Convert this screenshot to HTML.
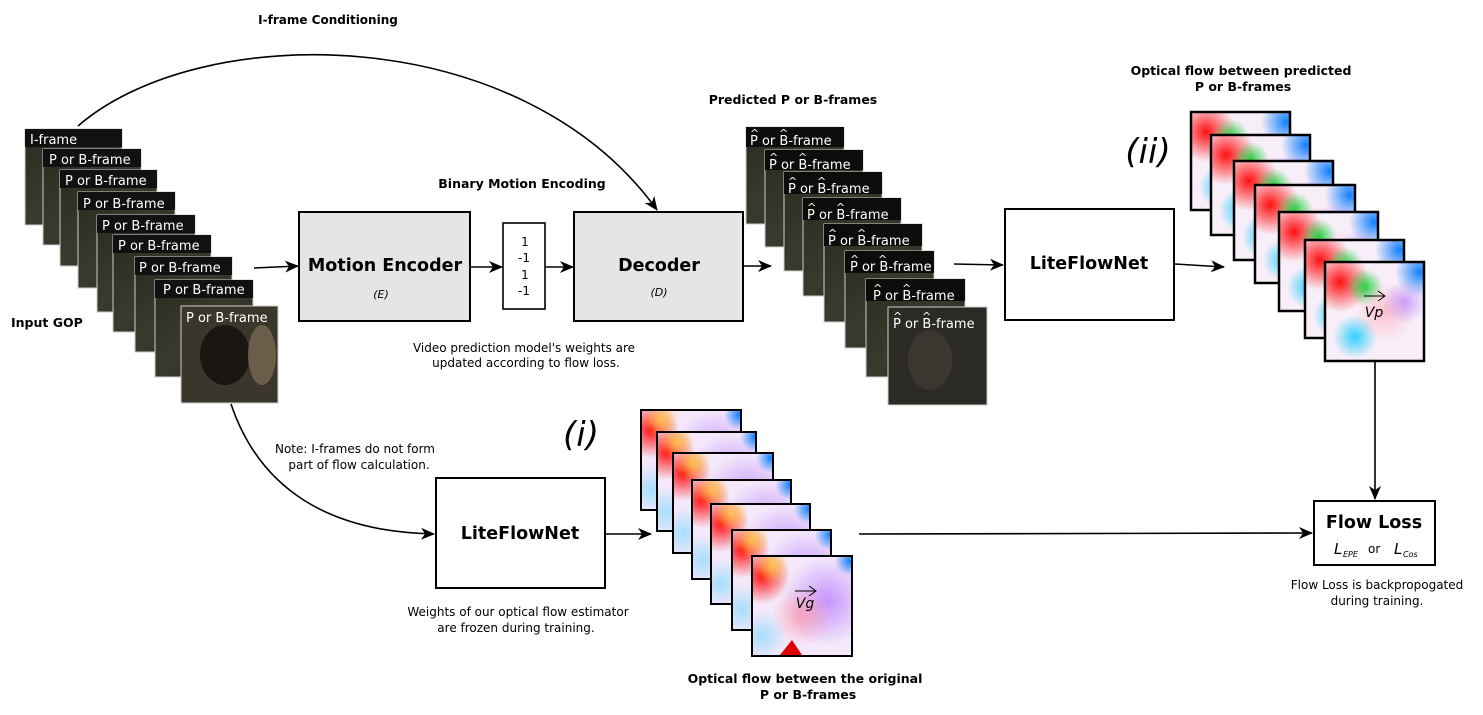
<!DOCTYPE html>
<html><head><meta charset="utf-8"><style>
html,body{margin:0;padding:0;background:#fff;}
svg{display:block;font-family:"DejaVu Sans","Liberation Sans",sans-serif;}
</style></head><body>
<svg width="1483" height="715" viewBox="0 0 1483 715" xmlns="http://www.w3.org/2000/svg">
<defs>
<marker id="ar" markerWidth="14" markerHeight="12" refX="13" refY="6" orient="auto" markerUnits="userSpaceOnUse">
<path d="M0,0 L14,6 L0,12 L4,6 Z" fill="#000"/></marker>
<linearGradient id="dk" x1="0" y1="0" x2="1" y2="1">
<stop offset="0" stop-color="#2a2a20"/><stop offset="0.5" stop-color="#3b3a2e"/><stop offset="1" stop-color="#1c1c16"/></linearGradient>
<radialGradient id="rR"><stop offset="0" stop-color="#ff1010"/><stop offset="1" stop-color="#ff1010" stop-opacity="0"/></radialGradient>
<radialGradient id="rY"><stop offset="0" stop-color="#ffd040"/><stop offset="1" stop-color="#ffd040" stop-opacity="0"/></radialGradient>
<radialGradient id="rG"><stop offset="0" stop-color="#10d030"/><stop offset="1" stop-color="#10d030" stop-opacity="0"/></radialGradient>
<radialGradient id="rB"><stop offset="0" stop-color="#1080ff"/><stop offset="1" stop-color="#1080ff" stop-opacity="0"/></radialGradient>
<radialGradient id="rC"><stop offset="0" stop-color="#30d0ff"/><stop offset="1" stop-color="#30d0ff" stop-opacity="0"/></radialGradient>
<radialGradient id="rP"><stop offset="0" stop-color="#b070ff"/><stop offset="1" stop-color="#b070ff" stop-opacity="0"/></radialGradient>
<radialGradient id="rK"><stop offset="0" stop-color="#ff90a0"/><stop offset="1" stop-color="#ff90a0" stop-opacity="0"/></radialGradient>
<symbol id="fA" viewBox="0 0 100 100">
<g stroke="none">
<rect width="100" height="100" fill="#f8eef8"/>
<circle cx="15" cy="20" r="30" fill="url(#rR)"/>
<circle cx="40" cy="25" r="18" fill="url(#rG)" opacity="0.9"/>
<circle cx="95" cy="10" r="25" fill="url(#rB)"/>
<circle cx="30" cy="75" r="22" fill="url(#rC)"/>
<circle cx="60" cy="50" r="30" fill="url(#rK)" opacity="0.5"/>
<circle cx="80" cy="40" r="22" fill="url(#rP)" opacity="0.6"/>
</g>
</symbol>
<symbol id="fB" viewBox="0 0 100 100">
<g stroke="none">
<rect width="100" height="100" fill="#f4e8fa"/>
<circle cx="10" cy="20" r="28" fill="url(#rR)"/>
<circle cx="20" cy="10" r="18" fill="url(#rY)" opacity="0.8"/>
<circle cx="75" cy="45" r="45" fill="url(#rP)" opacity="0.7"/>
<circle cx="50" cy="60" r="30" fill="url(#rK)" opacity="0.7"/>
<circle cx="10" cy="80" r="25" fill="url(#rC)" opacity="0.4"/>
<circle cx="98" cy="5" r="15" fill="url(#rB)"/>
</g>
</symbol>
</defs>

<text x="328" y="24" font-size="12" font-weight="bold" text-anchor="middle">I-frame Conditioning</text>
<path d="M78,126 C200,20 520,20 657,210" fill="none" stroke="#000" stroke-width="1.6" marker-end="url(#ar)"/>

<g font-size="13" fill="#fff">
<g><rect x="25" y="129" width="97" height="96" fill="url(#dk)" stroke="#ccc"/><rect x="25" y="129" width="97" height="18" fill="#111"/><text x="30" y="144">I-frame</text></g>
<g><rect x="43" y="149" width="98" height="96" fill="url(#dk)" stroke="#ccc"/><rect x="43" y="149" width="98" height="18" fill="#111"/><text x="49" y="164">P or B-frame</text></g>
<g><rect x="60" y="170" width="97" height="96" fill="url(#dk)" stroke="#ccc"/><rect x="60" y="170" width="97" height="18" fill="#111"/><text x="65" y="185">P or B-frame</text></g>
<g><rect x="78" y="192" width="97" height="96" fill="url(#dk)" stroke="#ccc"/><rect x="78" y="192" width="97" height="18" fill="#111"/><text x="83" y="208">P or B-frame</text></g>
<g><rect x="97" y="215" width="98" height="97" fill="url(#dk)" stroke="#ccc"/><rect x="97" y="215" width="98" height="18" fill="#111"/><text x="102" y="230">P or B-frame</text></g>
<g><rect x="113" y="235" width="98" height="97" fill="url(#dk)" stroke="#ccc"/><rect x="113" y="235" width="98" height="18" fill="#111"/><text x="118" y="250">P or B-frame</text></g>
<g><rect x="135" y="257" width="97" height="95" fill="url(#dk)" stroke="#ccc"/><rect x="135" y="257" width="97" height="18" fill="#111"/><text x="139" y="272">P or B-frame</text></g>
<g><rect x="155" y="280" width="98" height="97" fill="url(#dk)" stroke="#ccc"/><rect x="155" y="280" width="98" height="18" fill="#111"/><text x="163" y="294">P or B-frame</text></g>
<g><rect x="181" y="306" width="97" height="97" fill="#3a362c" stroke="#ccc"/><ellipse cx="225" cy="355" rx="25" ry="30" fill="#1a1612"/><ellipse cx="262" cy="355" rx="14" ry="30" fill="#6a5e4a"/><text x="186" y="322">P or B-frame</text></g>
</g>
<text x="11" y="327" font-size="12.5" font-weight="bold">Input GOP</text>

<line x1="254" y1="268" x2="298" y2="266" stroke="#000" stroke-width="1.6" marker-end="url(#ar)"/>
<rect x="299" y="212" width="171" height="109" fill="#e5e5e5" stroke="#000" stroke-width="2"/>
<text x="385" y="271" font-size="17.5" font-weight="bold" text-anchor="middle">Motion Encoder</text>
<text x="381" y="298" font-size="11" font-style="italic" text-anchor="middle">(E)</text>
<line x1="471" y1="267" x2="502" y2="267" stroke="#000" stroke-width="1.6" marker-end="url(#ar)"/>
<rect x="503" y="223" width="42" height="86" fill="#fff" stroke="#000" stroke-width="1.6"/>
<g font-size="12" text-anchor="middle"><text x="525" y="246">1</text><text x="524" y="262">-1</text><text x="525" y="279">1</text><text x="524" y="295">-1</text></g>
<text x="522" y="188" font-size="12.5" font-weight="bold" text-anchor="middle">Binary Motion Encoding</text>
<line x1="546" y1="267" x2="573" y2="267" stroke="#000" stroke-width="1.6" marker-end="url(#ar)"/>
<rect x="574" y="212" width="169" height="109" fill="#e5e5e5" stroke="#000" stroke-width="2"/>
<text x="659" y="271" font-size="17.5" font-weight="bold" text-anchor="middle">Decoder</text>
<text x="659" y="296" font-size="11" font-style="italic" text-anchor="middle">(D)</text>
<line x1="744" y1="266" x2="771" y2="266" stroke="#000" stroke-width="1.6" marker-end="url(#ar)"/>
<text x="524" y="352" font-size="12" text-anchor="middle">Video prediction model's weights are</text>
<text x="526" y="367" font-size="12" text-anchor="middle">updated according to flow loss.</text>

<text x="793" y="104" font-size="12.5" font-weight="bold" text-anchor="middle">Predicted P or B-frames</text>
<g font-size="13" fill="#fff">
<g><rect x="746" y="127" width="98" height="97" fill="url(#dk)" stroke="#ccc"/><rect x="746" y="127" width="98" height="20" fill="#0c0c0a"/><text x="750" y="145">P or B-frame</text><text x="750" y="137" font-size="11">^</text><text x="779" y="137" font-size="11">^</text></g>
<g><rect x="765" y="150" width="98" height="97" fill="url(#dk)" stroke="#ccc"/><rect x="765" y="150" width="98" height="20" fill="#0c0c0a"/><text x="769" y="169">P or B-frame</text><text x="769" y="161" font-size="11">^</text><text x="798" y="161" font-size="11">^</text></g>
<g><rect x="784" y="172" width="98" height="99" fill="url(#dk)" stroke="#ccc"/><rect x="784" y="172" width="98" height="22" fill="#0c0c0a"/><text x="788" y="193">P or B-frame</text><text x="788" y="185" font-size="11">^</text><text x="817" y="185" font-size="11">^</text></g>
<g><rect x="803" y="198" width="98" height="98" fill="url(#dk)" stroke="#ccc"/><rect x="803" y="198" width="98" height="22" fill="#0c0c0a"/><text x="807" y="219">P or B-frame</text><text x="807" y="211" font-size="11">^</text><text x="836" y="211" font-size="11">^</text></g>
<g><rect x="824" y="224" width="98" height="98" fill="url(#dk)" stroke="#ccc"/><rect x="824" y="224" width="98" height="22" fill="#0c0c0a"/><text x="828" y="245">P or B-frame</text><text x="828" y="237" font-size="11">^</text><text x="857" y="237" font-size="11">^</text></g>
<g><rect x="845" y="251" width="89" height="97" fill="url(#dk)" stroke="#ccc"/><rect x="845" y="251" width="89" height="22" fill="#0c0c0a"/><text x="850" y="271">P or B-frame</text><text x="850" y="263" font-size="11">^</text><text x="878" y="263" font-size="11">^</text></g>
<g><rect x="866" y="279" width="99" height="98" fill="url(#dk)" stroke="#ccc"/><rect x="866" y="279" width="99" height="22" fill="#0c0c0a"/><text x="873" y="300">P or B-frame</text><text x="873" y="292" font-size="11">^</text><text x="902" y="292" font-size="11">^</text></g>
<g><rect x="888" y="307" width="99" height="98" fill="#2c2a24" stroke="#ccc"/><ellipse cx="930" cy="360" rx="22" ry="30" fill="#3c3630"/><text x="893" y="328">P or B-frame</text><text x="893" y="320" font-size="11">^</text><text x="922" y="320" font-size="11">^</text></g>
</g>

<line x1="954" y1="264" x2="1003" y2="265" stroke="#000" stroke-width="1.6" marker-end="url(#ar)"/>
<rect x="1005" y="209" width="169" height="111" fill="#fff" stroke="#000" stroke-width="2"/>
<text x="1089" y="269" font-size="17.5" font-weight="bold" text-anchor="middle">LiteFlowNet</text>
<line x1="1175" y1="264" x2="1224" y2="267" stroke="#000" stroke-width="1.6" marker-end="url(#ar)"/>

<text x="1241" y="75" font-size="12.5" font-weight="bold" text-anchor="middle">Optical flow between predicted</text>
<text x="1243" y="91" font-size="12.5" font-weight="bold" text-anchor="middle">P or B-frames</text>
<text x="1148" y="163" font-size="34" font-style="italic" text-anchor="middle">(ii)</text>
<svg x="1191" y="112" width="99" height="98"><use href="#fA" width="100" height="100"/></svg><rect x="1191" y="112" width="99" height="98" fill="none" stroke="#000" stroke-width="2.5"/>
<svg x="1211" y="135" width="99" height="100"><use href="#fA" width="100" height="100"/></svg><rect x="1211" y="135" width="99" height="100" fill="none" stroke="#000" stroke-width="2.5"/>
<svg x="1234" y="161" width="99" height="99"><use href="#fA" width="100" height="100"/></svg><rect x="1234" y="161" width="99" height="99" fill="none" stroke="#000" stroke-width="2.5"/>
<svg x="1255" y="185" width="100" height="98"><use href="#fA" width="100" height="100"/></svg><rect x="1255" y="185" width="100" height="98" fill="none" stroke="#000" stroke-width="2.5"/>
<svg x="1279" y="212" width="99" height="99"><use href="#fA" width="100" height="100"/></svg><rect x="1279" y="212" width="99" height="99" fill="none" stroke="#000" stroke-width="2.5"/>
<svg x="1305" y="240" width="99" height="98"><use href="#fA" width="100" height="100"/></svg><rect x="1305" y="240" width="99" height="98" fill="none" stroke="#000" stroke-width="2.5"/>
<svg x="1325" y="262" width="99" height="99"><use href="#fA" width="100" height="100"/></svg><rect x="1325" y="262" width="99" height="99" fill="none" stroke="#000" stroke-width="2.5"/>
<line x1="1364" y1="296" x2="1384" y2="296" stroke="#000" stroke-width="1"/><path d="M1378,291 L1385,296 L1378,301" fill="none" stroke="#000"/>
<text x="1374" y="317" font-size="14" font-style="italic" text-anchor="middle">Vp</text>

<line x1="1375" y1="362" x2="1375" y2="499" stroke="#000" stroke-width="1.6" marker-end="url(#ar)"/>
<rect x="1314" y="501" width="121" height="64" fill="#fff" stroke="#000" stroke-width="2"/>
<text x="1374" y="528" font-size="17.5" font-weight="bold" text-anchor="middle">Flow Loss</text>
<text x="1334" y="554" font-size="15" font-style="italic">L</text><text x="1343" y="557" font-size="8" font-style="italic">EPE</text>
<text x="1368" y="553" font-size="12">or</text>
<text x="1394" y="554" font-size="15" font-style="italic">L</text><text x="1403" y="557" font-size="8" font-style="italic">Cos</text>
<text x="1377" y="589" font-size="12" text-anchor="middle">Flow Loss is backpropogated</text>
<text x="1377" y="605" font-size="12" text-anchor="middle">during training.</text>

<path d="M231,404 C260,490 330,532 434,534" fill="none" stroke="#000" stroke-width="1.6" marker-end="url(#ar)"/>
<text x="355" y="453" font-size="12" text-anchor="middle">Note: I-frames do not form</text>
<text x="359" y="469" font-size="12" text-anchor="middle">part of flow calculation.</text>
<rect x="436" y="478" width="169" height="110" fill="#fff" stroke="#000" stroke-width="2"/>
<text x="520" y="539" font-size="17.5" font-weight="bold" text-anchor="middle">LiteFlowNet</text>
<text x="518" y="616" font-size="12" text-anchor="middle">Weights of our optical flow estimator</text>
<text x="516" y="632" font-size="12" text-anchor="middle">are frozen during training.</text>
<text x="581" y="446" font-size="34" font-style="italic" text-anchor="middle">(i)</text>
<line x1="606" y1="534" x2="651" y2="534" stroke="#000" stroke-width="1.6" marker-end="url(#ar)"/>

<svg x="641" y="410" width="100" height="100"><use href="#fB" width="100" height="100"/></svg><rect x="641" y="410" width="100" height="100" fill="none" stroke="#000" stroke-width="2"/>
<svg x="657" y="432" width="99" height="99"><use href="#fB" width="100" height="100"/></svg><rect x="657" y="432" width="99" height="99" fill="none" stroke="#000" stroke-width="2"/>
<svg x="673" y="453" width="100" height="100"><use href="#fB" width="100" height="100"/></svg><rect x="673" y="453" width="100" height="100" fill="none" stroke="#000" stroke-width="2"/>
<svg x="692" y="480" width="99" height="99"><use href="#fB" width="100" height="100"/></svg><rect x="692" y="480" width="99" height="99" fill="none" stroke="#000" stroke-width="2"/>
<svg x="711" y="504" width="99" height="100"><use href="#fB" width="100" height="100"/></svg><rect x="711" y="504" width="99" height="100" fill="none" stroke="#000" stroke-width="2"/>
<svg x="732" y="530" width="99" height="100"><use href="#fB" width="100" height="100"/></svg><rect x="732" y="530" width="99" height="100" fill="none" stroke="#000" stroke-width="2"/>
<svg x="752" y="556" width="100" height="100"><use href="#fB" width="100" height="100"/></svg>
<path d="M780,655 L792,640 L802,655 Z" fill="#e00000"/>
<rect x="752" y="556" width="100" height="100" fill="none" stroke="#000" stroke-width="2"/>
<line x1="795" y1="591" x2="815" y2="591" stroke="#000" stroke-width="1"/><path d="M809,586 L816,591 L809,596" fill="none" stroke="#000"/>
<text x="805" y="608" font-size="14" font-style="italic" text-anchor="middle">Vg</text>
<line x1="859" y1="534" x2="1312" y2="533" stroke="#000" stroke-width="1.6" marker-end="url(#ar)"/>
<text x="805" y="683" font-size="12.5" font-weight="bold" text-anchor="middle">Optical flow between the original</text>
<text x="808" y="699" font-size="12.5" font-weight="bold" text-anchor="middle">P or B-frames</text>
</svg>
</body></html>
